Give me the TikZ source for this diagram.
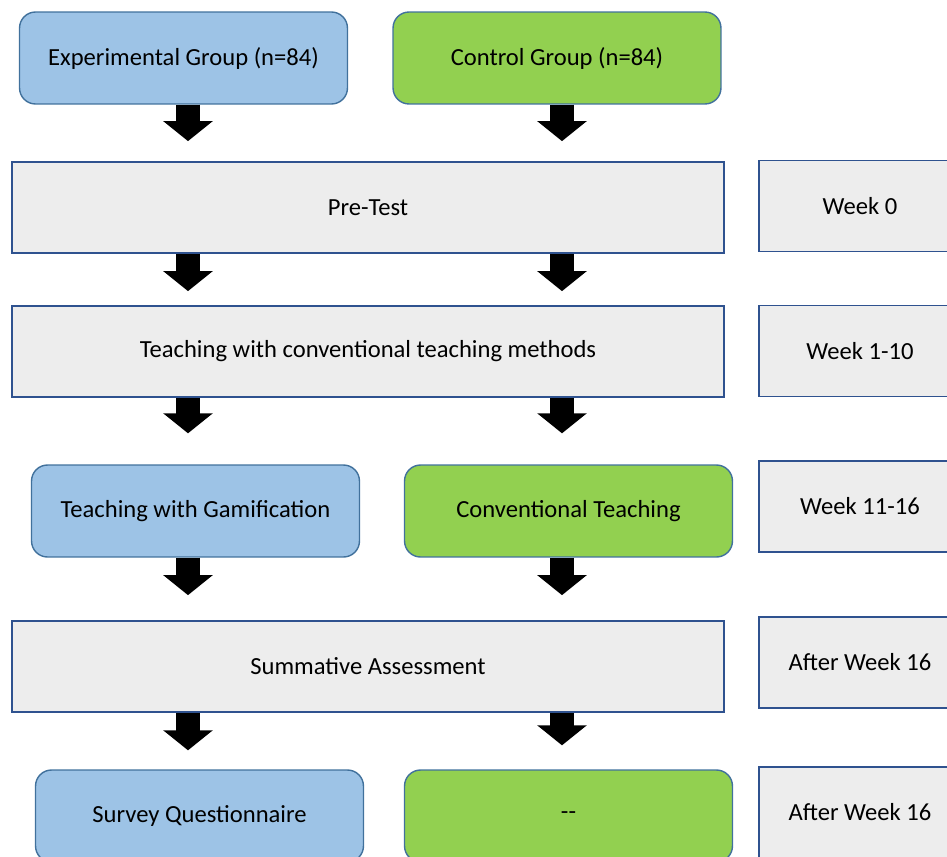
\documentclass[tikz,border=0pt]{standalone}
\usepackage{fontspec}
\setmainfont{Carlito}
\usetikzlibrary{positioning, arrows.meta}
\definecolor{grpblue}{HTML}{9DC3E6}
\definecolor{grpgreen}{HTML}{92D050}
\definecolor{boxgray}{HTML}{EDEDED}
\definecolor{edgeblue}{HTML}{41719C}
\definecolor{frameblue}{HTML}{2F528F}

\begin{document}
\begin{tikzpicture}[
    x=0.02cm, y=-0.02cm,
    grp/.style={rectangle, draw=edgeblue, line width=0.8pt, rounded corners=0.32cm, minimum width=6.56cm, minimum height=1.84cm, align=center, font=\fontsize{14}{17}\selectfont},
    expgrp/.style={grp, fill=grpblue},
    ctlgrp/.style={grp, fill=grpgreen},
    stage/.style={rectangle, draw=frameblue, fill=boxgray, line width=1pt, minimum width=14.24cm, minimum height=1.82cm, align=center, font=\fontsize{14}{17}\selectfont},
    week/.style={stage, minimum width=4.04cm},
    blockarrow/.style={line width=0.48cm, -{Triangle[width=0.97cm, length=0.4cm]}, black}
]
    \useasboundingbox (0,0) rectangle (947,856);
    \clip (0,0) rectangle (947,856);

    % Columns of the arrows
    \coordinate (colA) at (188,0);
    \coordinate (colB) at (562,0);

    % Groups
    \node[expgrp] (exp) at (183.5,58) {Experimental Group (n=84)};
    \node[ctlgrp] (ctl) at (557,58) {Control Group (n=84)};

    % Stages for both groups
    \node[stage] (pretest) at (368,207.5) {Pre-Test};
    \node[stage] (teach) at (368,351.5) {Teaching with conventional teaching methods};

    % Treatment
    \node[expgrp] (gamif) at (195.5,511) {Teaching with Gamification};
    \node[ctlgrp] (conv) at (568.5,511) {Conventional Teaching};

    \node[stage] (summ) at (368,666.5) {Summative Assessment};

    % Follow-up
    \node[expgrp] (survey) at (199.5,816) {Survey Questionnaire};
    \node[ctlgrp] (none) at (568.5,816) {-{}-};

    % Timeline
    \node[week] (w0) at (860,206) {Week 0};
    \node[week] (w1) at (860,351) {Week 1-10};
    \node[week] (w2) at (860,506.5) {Week 11-16};
    \node[week] (w3) at (860,662.5) {After Week 16};
    \node[week] (w4) at (860,812.5) {After Week 16};

    % Arrows
    \draw[blockarrow, shorten >=0.4cm] (colA |- exp.south) -- (colA |- pretest.north);
    \draw[blockarrow, shorten >=0.4cm] (colB |- ctl.south) -- (colB |- pretest.north);
    \draw[blockarrow, shorten >=0.28cm] (colA |- pretest.south) -- (colA |- teach.north);
    \draw[blockarrow, shorten >=0.28cm] (colB |- pretest.south) -- (colB |- teach.north);
    \draw[blockarrow, shorten >=0.62cm] (colA |- teach.south) -- (colA |- gamif.north);
    \draw[blockarrow, shorten >=0.62cm] (colB |- teach.south) -- (colB |- conv.north);
    \draw[blockarrow, shorten >=0.5cm] (colA |- gamif.south) -- (colA |- summ.north);
    \draw[blockarrow, shorten >=0.5cm] (colB |- conv.south) -- (colB |- summ.north);
    \draw[blockarrow, shorten >=0.38cm] (colA |- summ.south) -- (colA |- survey.north);
    \draw[blockarrow, shorten >=0.48cm] (colB |- summ.south) -- (colB |- none.north);
\end{tikzpicture}
\end{document}
